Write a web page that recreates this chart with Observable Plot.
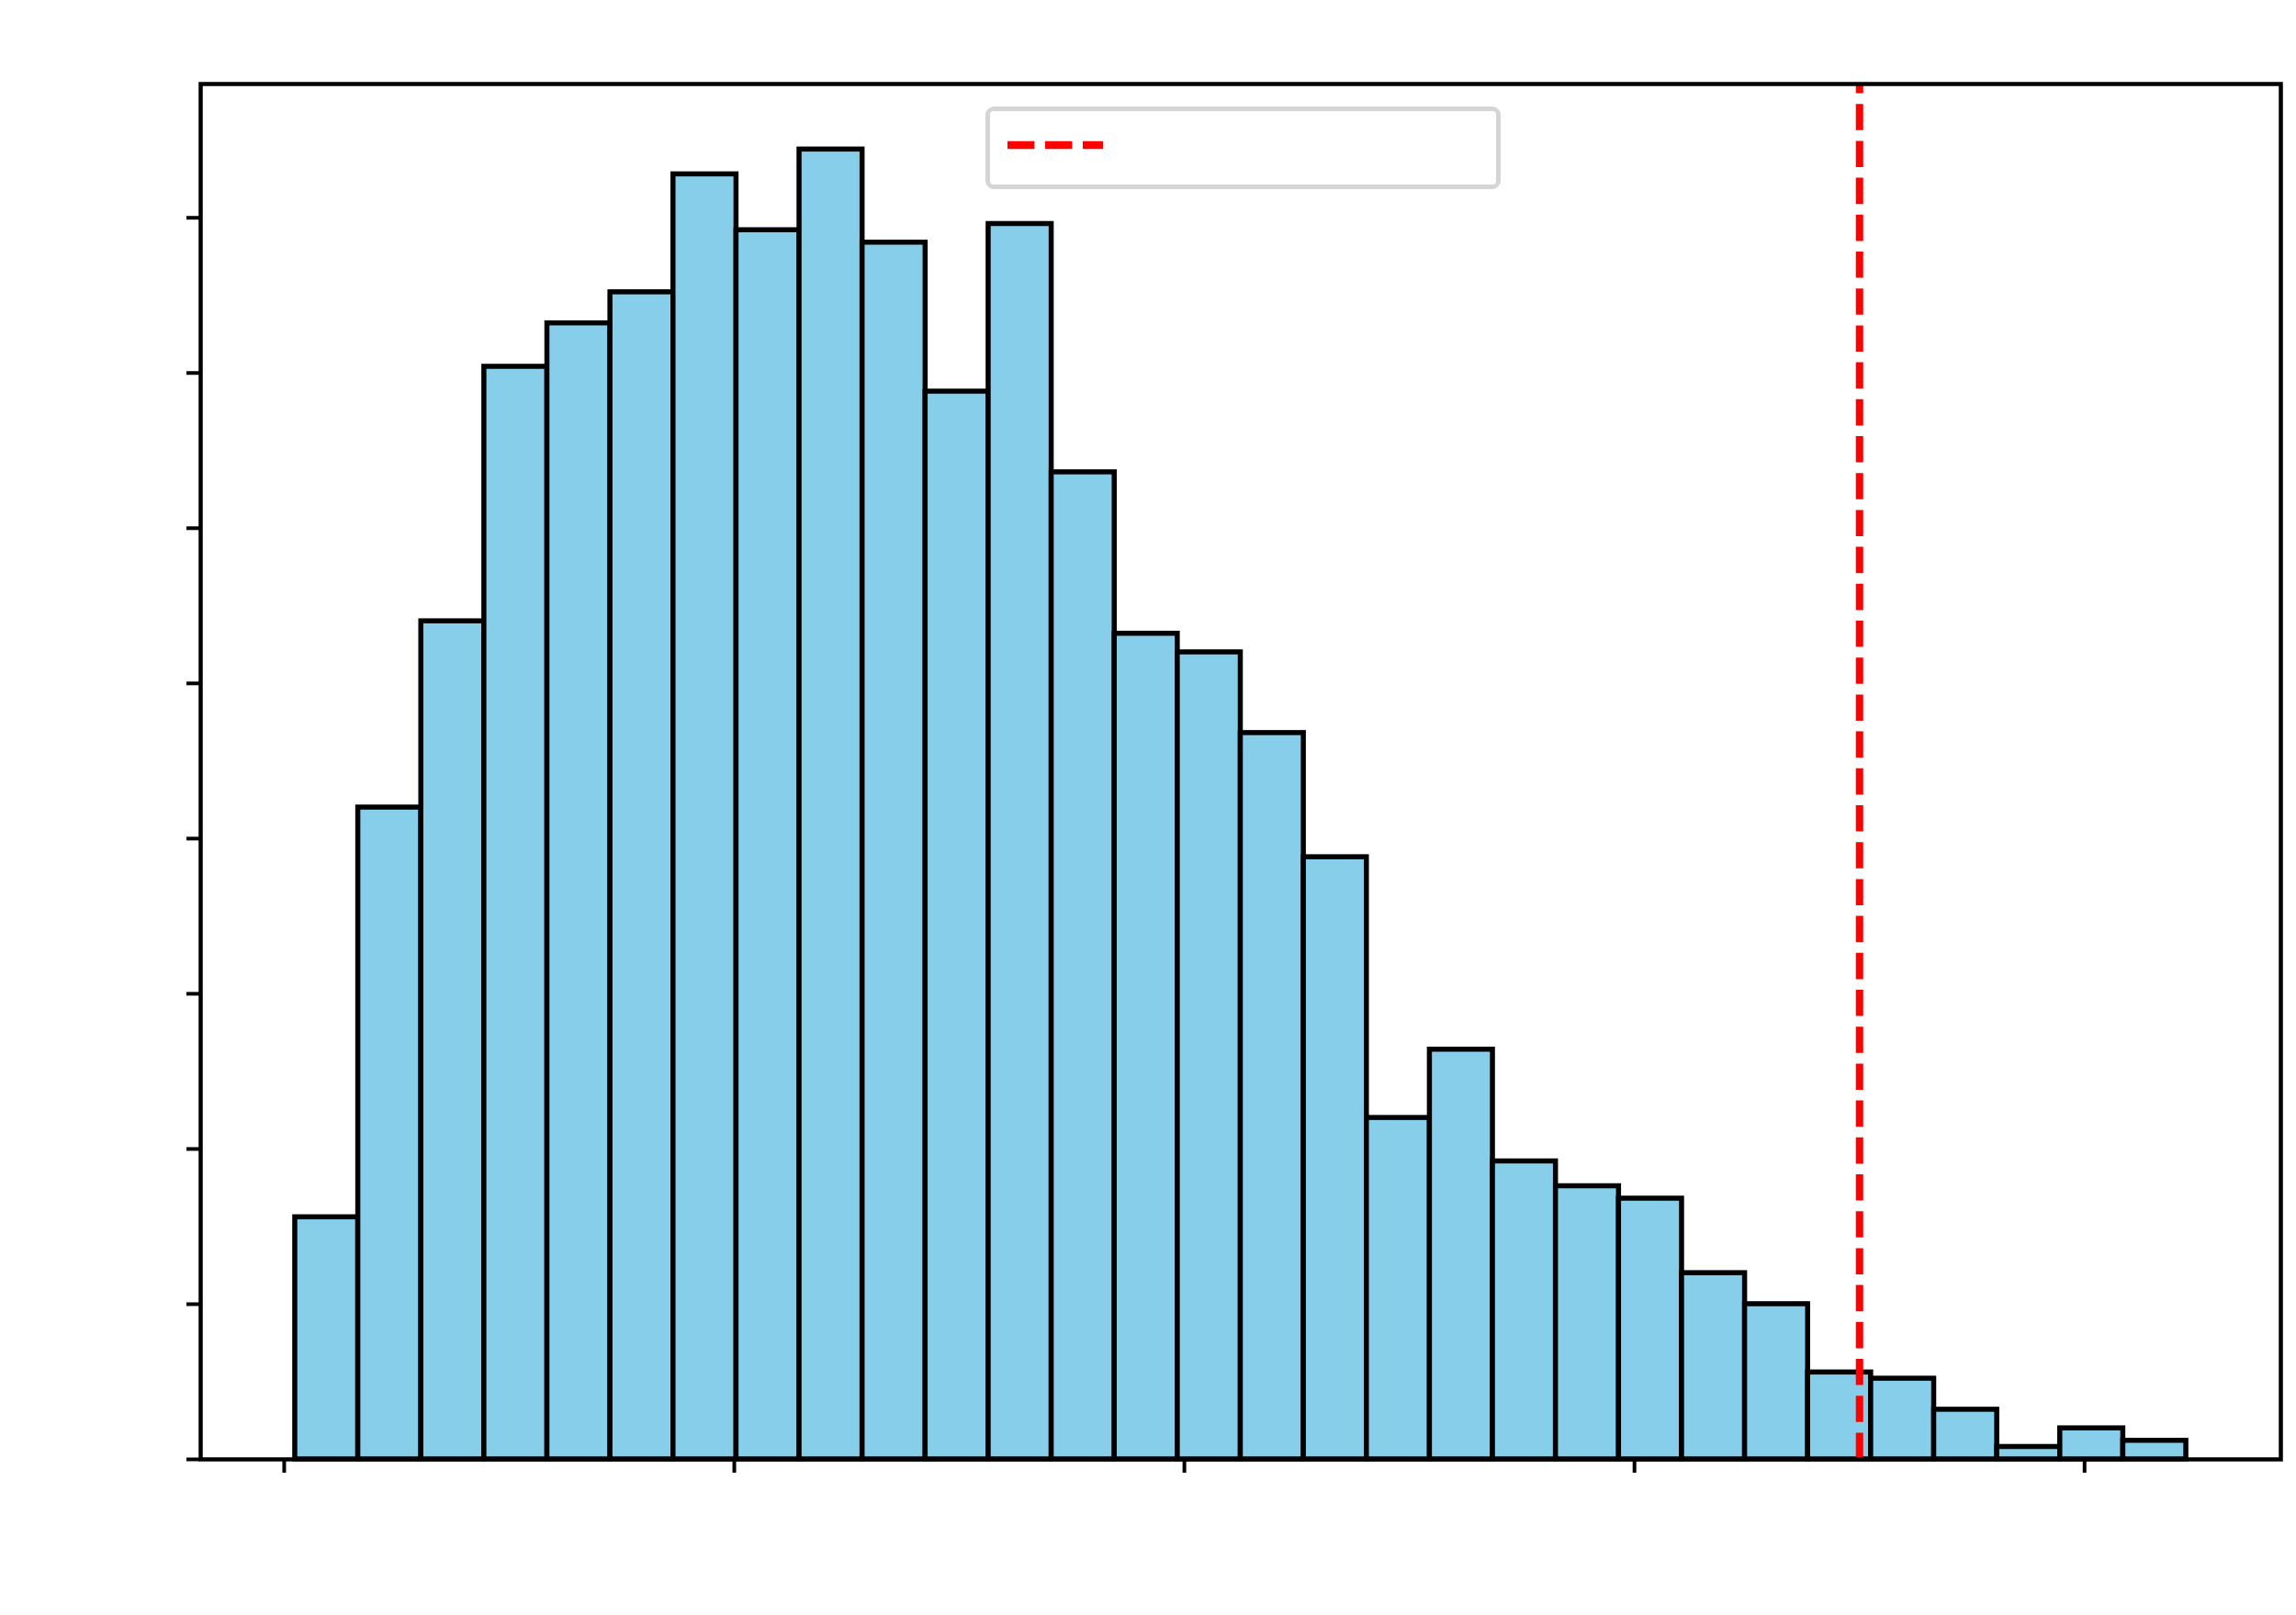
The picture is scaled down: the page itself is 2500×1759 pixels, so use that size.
<!DOCTYPE html>
<html>
<head>
<meta charset="utf-8">
<script src="https://cdn.jsdelivr.net/npm/d3@7"></script>
<script src="https://cdn.jsdelivr.net/npm/@observablehq/plot@0.6"></script>
<style>
  html, body { margin: 0; padding: 0; background: #ffffff; }
  #wrap { position: relative; width: 2500px; height: 1759px; }
  #legend {
    position: absolute; left: 1073px; top: 116px; width: 561px; height: 90px;
    box-sizing: border-box; border: 5px solid #d5d5d5; border-radius: 9px; background: #ffffff;
  }
  #legend svg { position: absolute; left: 0; top: 0; }
</style>
</head>
<body>
<div id="wrap"></div>
<script>
// Histogram counts per bin (30 equal-width bins)
const counts = [39, 105, 135, 176, 183, 188, 207, 198, 211, 196,
                172, 199, 159, 133, 130, 117, 97, 55, 66, 48,
                44, 42, 30, 25, 14, 13, 8, 2, 5, 3];
const binStart = 0.49;
const binWidth = 2.801;
const xTicks = [0, 20, 40, 60, 80];
const yTicks = [0, 25, 50, 75, 100, 125, 150, 175, 200];
const thresholdX = [70];

const bins = counts.map((c, i) => ({
  x1: binStart + i * binWidth,
  x2: binStart + (i + 1) * binWidth,
  count: c
}));

const dataMin = binStart;
const dataMax = binStart + counts.length * binWidth;
const range = dataMax - dataMin;
const yMax = d3.max(counts) * 1.05;

const chart = Plot.plot({
  width: 2500,
  height: 1759,
  marginLeft: 218,
  marginRight: 17,
  marginTop: 91,
  marginBottom: 170,
  style: { background: "#ffffff", overflow: "visible" },
  x: { domain: [dataMin - 0.05 * range, dataMax + 0.05 * range], axis: null },
  y: { domain: [0, yMax], axis: null },
  marks: [
    Plot.rectY(bins, { x1: "x1", x2: "x2", y1: 0, y2: "count", fill: "#87CEEB", stroke: "#000000", strokeWidth: 5.5 }),
    Plot.ruleX(thresholdX, { x: d => d, y1: 0, y2: yMax, stroke: "#ff0000", strokeWidth: 8, strokeDasharray: "28.6,11.6" }),
    Plot.frame({ stroke: "#000000", strokeWidth: 4.5 }),
    Plot.axisX(xTicks, { tickSize: 15, fill: "none", stroke: "#000000", strokeWidth: 4 }),
    Plot.axisY(yTicks, { tickSize: 15, fill: "none", stroke: "#000000", strokeWidth: 4 })
  ]
});

const wrap = document.getElementById("wrap");
wrap.appendChild(chart);

// legend box with dashed red handle
const legend = document.createElement("div");
legend.id = "legend";
legend.innerHTML = '<svg width="551" height="80"><line x1="19" x2="123" y1="37" y2="37" stroke="#ff0000" stroke-width="8.5" stroke-dasharray="29.4,11.6"></line></svg>';
wrap.appendChild(legend);
</script>
</body>
</html>
